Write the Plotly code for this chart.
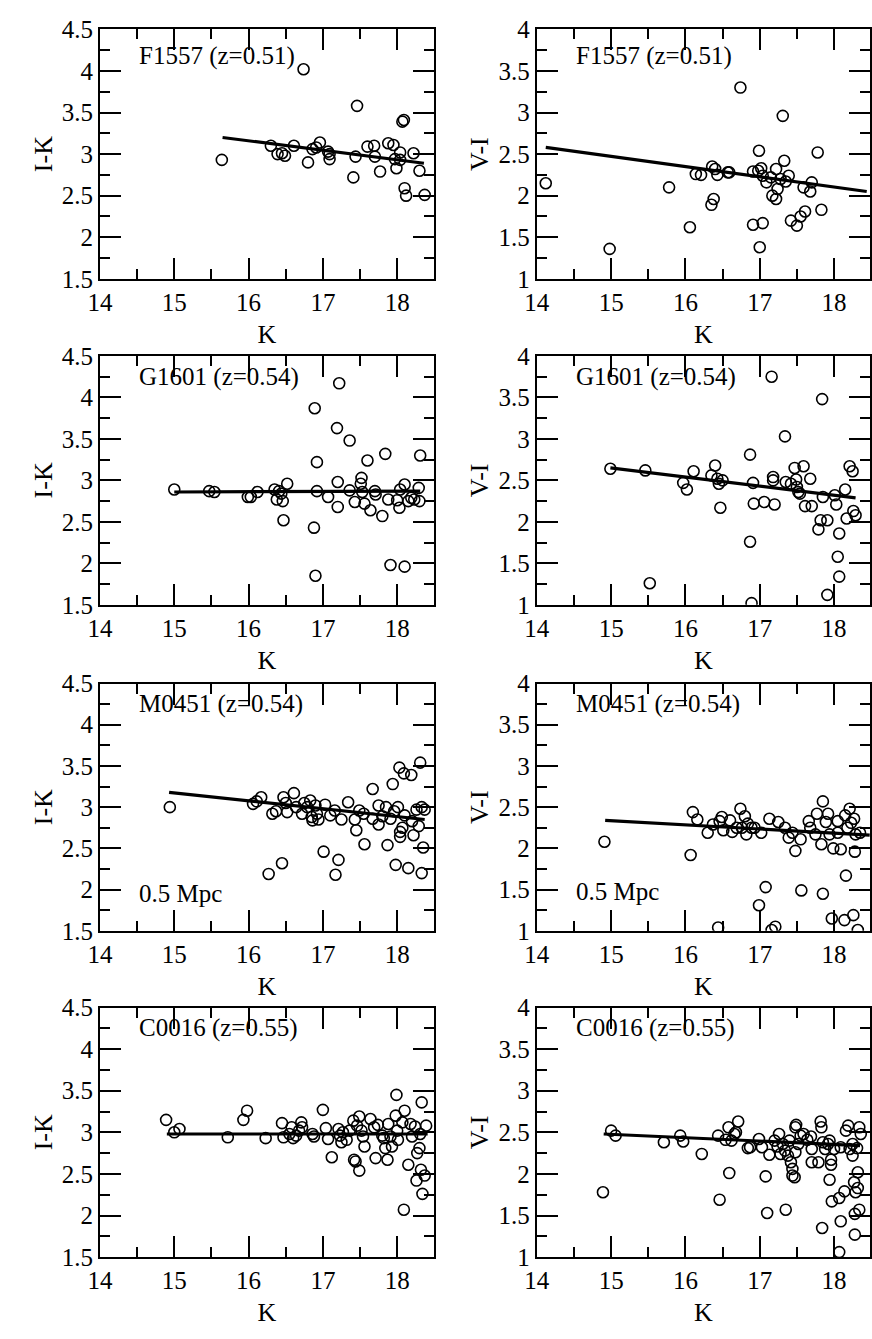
import plotly.graph_objects as go

# ---------------- photometry: K magnitude vs colour ----------------
# F1557 (z=0.51)
f1557_k_ik = [15.64, 16.74, 16.30, 16.39, 16.45, 16.49, 16.61, 16.80, 16.86, 16.91,
              16.96, 17.07, 17.09, 17.09, 17.41, 17.44, 17.46, 17.60, 17.69, 17.70,
              17.77, 17.88, 17.95, 17.97, 17.99, 18.04, 18.04, 18.07, 18.09, 18.10,
              18.12, 18.22, 18.30, 18.37]
f1557_ik = [2.93, 4.02, 3.10, 3.00, 3.01, 2.98, 3.10, 2.90, 3.06, 3.08,
            3.14, 3.03, 2.94, 3.00, 2.72, 2.97, 3.58, 3.09, 3.10, 2.97,
            2.79, 3.13, 3.11, 2.94, 2.83, 3.02, 2.93, 3.39, 3.41, 2.59,
            2.50, 3.01, 2.80, 2.51]
f1557_k_vi = [14.12, 14.98, 15.78, 16.06, 16.14, 16.21, 16.35, 16.38, 16.36, 16.40,
              16.43, 16.57, 16.59, 16.74, 16.91, 16.91, 16.98, 16.99, 17.02, 17.00,
              17.04, 17.04, 17.09, 17.15, 17.17, 17.22, 17.22, 17.24, 17.28, 17.31,
              17.33, 17.35, 17.39, 17.42, 17.50, 17.55, 17.59, 17.61, 17.68, 17.70,
              17.78, 17.83]
f1557_vi = [2.15, 1.36, 2.10, 1.62, 2.26, 2.25, 1.89, 1.96, 2.35, 2.32,
            2.25, 2.28, 2.28, 3.30, 1.65, 2.29, 2.30, 2.54, 2.33, 1.38,
            1.67, 2.24, 2.16, 2.22, 2.00, 1.96, 2.32, 2.08, 2.20, 2.96,
            2.42, 2.17, 2.24, 1.70, 1.64, 1.75, 2.10, 1.81, 2.05, 2.16,
            2.52, 1.83]

# G1601 (z=0.54)
g1601_k_ik = [15.00, 15.47, 15.54, 15.99, 16.03, 16.12, 16.35, 16.38, 16.41, 16.44,
              16.46, 16.47, 16.52, 16.89, 16.92, 16.92, 16.88, 16.90, 17.07, 17.19,
              17.20, 17.20, 17.22, 17.36, 17.36, 17.43, 17.52, 17.51, 17.53, 17.56,
              17.60, 17.64, 17.70, 17.71, 17.80, 17.84, 17.88, 17.91, 18.00, 18.03,
              18.04, 18.10, 18.10, 18.15, 18.19, 18.23, 18.29, 18.30, 18.31]
g1601_ik = [2.89, 2.87, 2.86, 2.80, 2.80, 2.86, 2.89, 2.77, 2.87, 2.84,
            2.75, 2.52, 2.96, 3.87, 3.22, 2.87, 2.43, 1.85, 2.80, 3.63,
            2.98, 2.68, 4.17, 3.48, 2.88, 2.74, 3.03, 2.96, 2.86, 2.72,
            3.24, 2.64, 2.87, 2.83, 2.57, 3.32, 2.77, 1.98, 2.76, 2.67,
            2.89, 2.95, 1.96, 2.75, 2.79, 2.77, 2.91, 2.75, 3.30]
g1601_k_vi = [14.99, 15.46, 15.52, 15.97, 16.02, 16.11, 16.35, 16.40, 16.43, 16.45,
              16.47, 16.50, 16.87, 16.87, 16.89, 16.91, 16.92, 17.06, 17.16, 17.18,
              17.18, 17.20, 17.34, 17.35, 17.42, 17.47, 17.49, 17.50, 17.52, 17.54,
              17.59, 17.61, 17.68, 17.70, 17.79, 17.82, 17.84, 17.85, 17.91, 17.91,
              18.01, 18.03, 18.07, 18.05, 18.07, 18.15, 18.17, 18.21, 18.25, 18.26,
              18.29]
g1601_vi = [2.64, 2.62, 1.26, 2.47, 2.39, 2.61, 2.56, 2.68, 2.52, 2.46,
            2.17, 2.50, 2.81, 1.76, 1.02, 2.47, 2.22, 2.24, 3.75, 2.54,
            2.50, 2.21, 3.03, 2.48, 2.46, 2.65, 2.51, 2.42, 2.36, 2.34,
            2.67, 2.19, 2.52, 2.19, 1.91, 2.02, 3.48, 2.30, 2.02, 1.12,
            2.32, 2.21, 1.86, 1.58, 1.34, 2.39, 2.04, 2.67, 2.61, 2.13,
            2.08]

# M0451 (z=0.54)
m0451_k_ik = [14.94, 16.06, 16.11, 16.17, 16.27, 16.32, 16.37, 16.45, 16.47, 16.50,
              16.52, 16.61, 16.64, 16.72, 16.75, 16.79, 16.83, 16.85, 16.86, 16.90,
              16.92, 16.94, 17.01, 17.03, 17.10, 17.16, 17.17, 17.21, 17.25, 17.34,
              17.43, 17.45, 17.49, 17.55, 17.56, 17.67, 17.67, 17.75, 17.75, 17.80,
              17.85, 17.87, 17.91, 17.94, 17.96, 17.98, 18.01, 18.03, 18.04, 18.04,
              18.07, 18.09, 18.10, 18.15, 18.19, 18.20, 18.22, 18.26, 18.29, 18.31,
              18.33, 18.33, 18.35, 18.37]
m0451_ik = [3.00, 3.04, 3.07, 3.12, 2.19, 2.92, 2.95, 2.32, 3.12, 3.05,
            2.94, 3.17, 3.00, 2.92, 3.05, 3.00, 3.08, 2.88, 2.84, 3.02,
            2.92, 2.85, 2.46, 3.03, 2.90, 2.96, 2.18, 2.36, 2.85, 3.06,
            2.85, 2.72, 2.96, 2.92, 2.55, 3.22, 2.86, 3.02, 2.79, 2.89,
            3.00, 2.54, 2.86, 3.28, 2.95, 2.30, 3.00, 3.48, 2.70, 2.64,
            2.75, 3.41, 2.90, 2.26, 3.39, 2.83, 2.66, 2.97, 2.77, 3.54,
            3.00, 2.20, 2.51, 2.97]
m0451_k_vi = [14.91, 16.07, 16.10, 16.16, 16.30, 16.37, 16.44, 16.46, 16.49, 16.51,
              16.60, 16.63, 16.69, 16.74, 16.76, 16.80, 16.82, 16.84, 16.89, 16.93,
              16.99, 17.02, 17.08, 17.13, 17.16, 17.21, 17.25, 17.34, 17.39, 17.44,
              17.48, 17.55, 17.56, 17.66, 17.68, 17.75, 17.77, 17.83, 17.85, 17.85,
              17.89, 17.92, 17.94, 17.97, 17.99, 18.05, 18.05, 18.09, 18.14, 18.15,
              18.16, 18.18, 18.21, 18.23, 18.27, 18.26, 18.28, 18.29, 18.32, 18.35]
m0451_vi = [2.08, 1.92, 2.44, 2.35, 2.19, 2.29, 1.04, 2.33, 2.38, 2.22,
            2.34, 2.20, 2.25, 2.48, 2.25, 2.39, 2.17, 2.30, 2.25, 2.25,
            1.31, 2.19, 1.53, 2.36, 1.01, 1.05, 2.32, 2.25, 2.13, 2.19,
            1.97, 2.11, 1.49, 2.33, 2.25, 2.17, 2.42, 2.05, 1.45, 2.57,
            2.32, 2.42, 2.17, 1.15, 2.00, 2.33, 2.19, 1.99, 1.13, 2.40,
            1.67, 2.25, 2.48, 2.31, 2.36, 1.19, 1.96, 2.17, 1.01, 2.19]

# C0016 (z=0.55)
c0016_k_ik = [14.89, 15.00, 15.07, 15.72, 15.93, 15.98, 16.23, 16.45, 16.47, 16.55,
              16.58, 16.60, 16.64, 16.68, 16.71, 16.72, 16.86, 16.88, 17.00, 17.04,
              17.07, 17.12, 17.21, 17.23, 17.25, 17.27, 17.32, 17.36, 17.41, 17.42,
              17.44, 17.46, 17.49, 17.49, 17.52, 17.54, 17.56, 17.64, 17.69, 17.71,
              17.74, 17.80, 17.82, 17.84, 17.87, 17.88, 17.91, 17.93, 17.98, 17.99,
              18.00, 18.01, 18.07, 18.09, 18.10, 18.15, 18.18, 18.20, 18.24, 18.26,
              18.27, 18.30, 18.31, 18.32, 18.33, 18.34, 18.37, 18.39]
c0016_ik = [3.15, 3.00, 3.04, 2.94, 3.15, 3.26, 2.93, 3.11, 2.94, 2.98,
            3.06, 2.93, 2.96, 3.02, 3.12, 3.06, 2.98, 2.95, 3.27, 3.05,
            2.92, 2.70, 3.04, 2.96, 2.88, 3.00, 2.91, 3.02, 3.14, 2.67,
            2.65, 3.08, 3.19, 2.54, 3.02, 2.95, 2.83, 3.16, 3.06, 2.69,
            3.09, 2.96, 2.93, 2.81, 2.67, 3.10, 2.95, 2.83, 3.20, 3.45,
            3.02, 2.91, 3.12, 2.07, 3.26, 2.61, 3.10, 2.95, 3.07, 2.42,
            2.75, 2.81, 2.98, 2.55, 3.36, 2.26, 2.48, 3.08]
c0016_k_vi = [14.89, 15.00, 15.06, 15.71, 15.93, 15.97, 16.22, 16.44, 16.46, 16.54,
              16.58, 16.59, 16.62, 16.66, 16.68, 16.71, 16.84, 16.87, 16.99, 17.03,
              17.08, 17.10, 17.13, 17.20, 17.24, 17.26, 17.28, 17.31, 17.34, 17.35,
              17.38, 17.40, 17.42, 17.44, 17.44, 17.48, 17.47, 17.48, 17.49, 17.52,
              17.55, 17.59, 17.64, 17.69, 17.70, 17.70, 17.79, 17.82, 17.83, 17.84,
              17.85, 17.88, 17.92, 17.94, 17.94, 17.96, 17.96, 17.97, 18.00, 18.07,
              18.09, 18.07, 18.09, 18.14, 18.16, 18.19, 18.21, 18.25, 18.25, 18.27,
              18.28, 18.28, 18.29, 18.31, 18.32, 18.32, 18.34, 18.34, 18.36]
c0016_vi = [1.78, 2.52, 2.46, 2.38, 2.46, 2.39, 2.24, 2.46, 1.69, 2.41,
            2.56, 2.01, 2.40, 2.48, 2.50, 2.63, 2.31, 2.32, 2.42, 2.32,
            1.97, 1.53, 2.23, 2.40, 2.33, 2.48, 2.24, 2.36, 2.28, 1.57,
            2.22, 2.40, 2.14, 2.06, 1.98, 2.56, 1.96, 2.26, 2.59, 2.36,
            2.46, 2.48, 2.41, 2.45, 2.30, 2.14, 2.14, 2.63, 2.56, 1.35,
            2.38, 2.30, 2.36, 2.40, 1.93, 2.17, 2.11, 1.67, 2.30, 1.71,
            1.43, 1.06, 2.32, 1.79, 2.52, 2.58, 2.30, 2.22, 2.36, 1.90,
            1.52, 1.27, 1.78, 2.31, 2.02, 1.83, 2.56, 1.57, 2.48]

# colour-magnitude relation fits (end points in K, colour)
f1557_fit_ik = ([15.65, 18.36], [3.20, 2.89])
f1557_fit_vi = ([14.12, 18.44], [2.58, 2.05])
g1601_fit_ik = ([15.00, 18.31], [2.86, 2.87])
g1601_fit_vi = ([14.99, 18.29], [2.65, 2.29])
m0451_fit_ik = ([14.93, 18.37], [3.18, 2.85])
m0451_fit_vi = ([14.92, 18.48], [2.34, 2.16])
c0016_fit_ik = ([14.90, 18.41], [2.98, 2.98])
c0016_fit_vi = ([14.90, 18.35], [2.48, 2.34])

cluster_labels = ["F1557 (z=0.51)", "G1601 (z=0.54)", "M0451 (z=0.54)", "C0016 (z=0.55)"]
aperture_label = "0.5 Mpc"
x_title = "K"
y_titles = ["I-K", "V-I"]
x_tick_vals = [14, 15, 16, 17, 18]

panels = [
    (f1557_k_ik, f1557_ik, f1557_fit_ik), (f1557_k_vi, f1557_vi, f1557_fit_vi),
    (g1601_k_ik, g1601_ik, g1601_fit_ik), (g1601_k_vi, g1601_vi, g1601_fit_vi),
    (m0451_k_ik, m0451_ik, m0451_fit_ik), (m0451_k_vi, m0451_vi, m0451_fit_vi),
    (c0016_k_ik, c0016_ik, c0016_fit_ik), (c0016_k_vi, c0016_vi, c0016_fit_vi),
]

# ---------------- layout geometry (pixels) ----------------
W, H = 872, 1339
FONT = "Liberation Serif, Times New Roman, Times, serif"
col_px = [(88.5, 428.0), (533.0, 872.0)]      # plot-area edges
row_px = [(16.7, 271.3), (350.0, 604.0), (684.3, 936.7), (1015.0, 1269.7)]
label_drop_px = [27.5, 21.0, 21.0, 21.0]      # cluster label centre below the top edge
px_per_mag = 75.6
y_ranges = [(1.5, 4.5), (1.0, 4.0)]


def fx(px):
    return px / W


def fy(py):
    return 1 - py / H


fig = go.Figure()
text_font = dict(family=FONT, size=25, color="black")
title_font = dict(family=FONT, size=26, color="black")

for i, (k, col, fit) in enumerate(panels):
    n = i + 1
    r, c = divmod(i, 2)
    x0p, x1p = col_px[c]
    y0p, y1p = row_px[r]
    sfx = "" if n == 1 else str(n)
    xa, ya = "x" + sfx, "y" + sfx

    fig.add_trace(go.Scatter(
        x=k, y=col, mode="markers", xaxis=xa, yaxis=ya,
        marker=dict(symbol="circle-open", size=11, color="black",
                    line=dict(width=1.6, color="black"))))
    fig.add_trace(go.Scatter(
        x=fit[0], y=fit[1], mode="lines", xaxis=xa, yaxis=ya,
        line=dict(color="black", width=3.2)))

    xr = [14.0, 14.0 + (x1p - x0p) / px_per_mag]
    yr = list(y_ranges[c])
    ysc = (y1p - y0p) / (yr[1] - yr[0])

    xs = dict(showline=True, linewidth=2, linecolor="black", mirror="ticks",
              ticks="inside", tickwidth=2, tickcolor="black", ticklen=21)
    ys = dict(xs)
    xs.update(tickmode="array", tickvals=x_tick_vals,
              minor=dict(ticks="inside", ticklen=10, tickwidth=2, tickcolor="black",
                         dtick=0.5, tick0=14),
              tickfont=text_font, showgrid=False, zeroline=False,
              title=dict(text=x_title, font=title_font, standoff=10))
    ys.update(tickmode="linear", tick0=1.0, dtick=0.5,
              minor=dict(ticks="inside", ticklen=10, tickwidth=2, tickcolor="black",
                         dtick=0.25, tick0=1.0),
              tickfont=text_font, showgrid=False, zeroline=False,
              title=dict(text=y_titles[c], font=title_font, standoff=2))
    fig.update_layout(**{
        "xaxis" + sfx: dict(domain=[fx(x0p), fx(x1p)], anchor=ya, range=xr, **xs),
        "yaxis" + sfx: dict(domain=[fy(y1p), fy(y0p)], anchor=xa, range=yr, **ys),
    })

    # cluster label inside the panel
    fig.add_annotation(text=cluster_labels[r], xref=xa, yref=ya,
                       x=14.5, y=yr[1] - label_drop_px[r] / ysc,
                       xanchor="left", showarrow=False, font=text_font)
    if r == 2:
        fig.add_annotation(text=aperture_label, xref=xa, yref=ya,
                           x=14.5, y=yr[0] + (0.455 if c == 0 else 0.48),
                           xanchor="left", showarrow=False, font=text_font)

fig.update_layout(width=W, height=H, margin=dict(l=0, r=0, t=0, b=0),
                  paper_bgcolor="white", plot_bgcolor="white", showlegend=False)

fig.write_html("out.html")
